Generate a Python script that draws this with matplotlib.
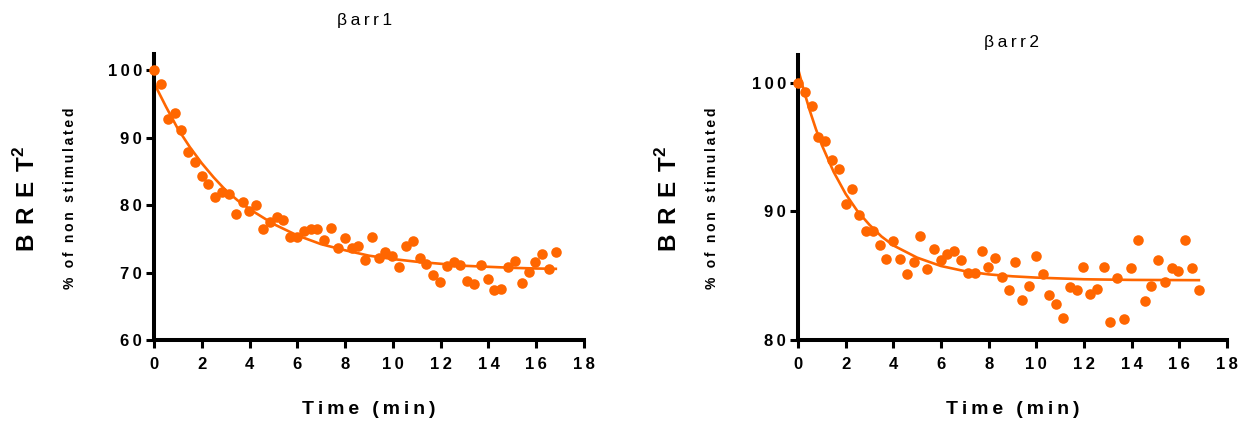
import matplotlib
matplotlib.use('Agg')
import matplotlib.pyplot as plt

plt.rcParams['font.family'] = ['Liberation Sans', 'DejaVu Sans']
plt.rcParams['mathtext.fontset'] = 'custom'
plt.rcParams['mathtext.rm'] = 'Liberation Sans'
plt.rcParams['mathtext.bf'] = 'Liberation Sans:bold'

# time points (min), shared by both experiments
time = [0, 0.29, 0.57, 0.86, 1.14, 1.43, 1.71, 2.0, 2.28, 2.57,
        2.85, 3.14, 3.42, 3.71, 3.99, 4.28, 4.56, 4.85, 5.13, 5.42,
        5.7, 5.99, 6.27, 6.56, 6.84, 7.13, 7.41, 7.7, 7.98, 8.27,
        8.55, 8.84, 9.12, 9.41, 9.69, 9.98, 10.26, 10.55, 10.83, 11.12,
        11.4, 11.69, 11.97, 12.26, 12.54, 12.83, 13.11, 13.4, 13.68, 13.97,
        14.25, 14.54, 14.82, 15.11, 15.39, 15.68, 15.96, 16.25, 16.53, 16.82]

# barr1 BRET2 (% of non stimulated)
barr1 = [100, 97.9, 92.7, 93.7, 91.1, 87.8, 86.4, 84.3, 83.1, 81.2,
         82.0, 81.7, 78.7, 80.5, 79.1, 80.0, 76.5, 77.5, 78.3, 77.8,
         75.2, 75.2, 76.1, 76.5, 76.4, 74.8, 76.6, 73.6, 75.1, 73.7,
         74.0, 71.8, 75.3, 72.2, 73.0, 72.4, 70.8, 74.0, 74.7, 72.2,
         71.2, 69.7, 68.6, 70.9, 71.6, 71.1, 68.7, 68.3, 71.1, 69.0,
         67.4, 67.6, 70.8, 71.7, 68.4, 70.1, 71.5, 72.7, 70.5, 73.1]

# barr2 BRET2 (% of non stimulated)
barr2 = [100, 99.3, 98.2, 95.75, 95.5, 94.0, 93.3, 90.6, 91.7, 89.7,
         88.5, 88.5, 87.4, 86.3, 87.7, 86.3, 85.1, 86.1, 88.1, 85.5,
         87.1, 86.2, 86.7, 86.9, 86.2, 85.2, 85.2, 86.9, 85.7, 86.4,
         84.9, 83.9, 86.1, 83.1, 84.2, 86.5, 85.1, 83.5, 82.8, 81.7,
         84.1, 83.9, 85.7, 83.6, 84.0, 85.7, 81.4, 84.8, 81.6, 85.6,
         87.8, 83.0, 84.2, 86.2, 84.5, 85.6, 85.4, 87.8, 85.6, 83.9]

# fitted decay curves
fit1_t = [0, 0.5, 1.0, 1.5, 2.0, 2.5, 3.0, 3.5, 4.0, 5.0, 6.0, 7.0,
          8.0, 9.0, 10.0, 11.0, 12.0, 13.0, 14.0, 15.0, 16.0, 16.82]
fit1_y = [98.1, 94.6, 91.3, 88.6, 86.2, 84.1, 82.2, 80.7, 79.4, 77.2, 75.5, 74.2,
          73.3, 72.5, 72.0, 71.6, 71.3, 71.0, 70.85, 70.7, 70.6, 70.55]

fit2_t = [0, 0.25, 0.5, 0.75, 1.0, 1.5, 2.0, 2.5, 3.0, 3.5, 4.0, 5.0,
          6.0, 7.0, 8.0, 9.0, 10.0, 12.0, 14.0, 16.82]
fit2_y = [101.1, 99.35, 97.8, 96.4, 95.15, 93.05, 91.35, 90.0, 88.95, 88.05, 87.35, 86.4,
          85.75, 85.35, 85.1, 84.95, 84.85, 84.72, 84.67, 84.65]

x_ticks = [0, 2, 4, 6, 8, 10, 12, 14, 16, 18]
y_ticks1 = [60, 70, 80, 90, 100]
y_ticks2 = [80, 90, 100]

orange = '#ff6600'
W, H = 1245, 424


def spaced(s, sep='\u2009'):
    return sep.join(s)


fig = plt.figure(figsize=(W / 100, H / 100), dpi=100)


def panel(rect, y, fit_t, fit_y, yticks, ylim):
    ax = fig.add_axes(rect)
    ax.plot(fit_t, fit_y, color=orange, lw=1.9, zorder=2, clip_on=False)
    ax.plot(time, y, 'o', color=orange, ms=7.6, mec='none', zorder=3, clip_on=False)
    ax.set_xlim(0, 18)
    ax.set_ylim(*ylim)
    ax.set_xticks(x_ticks)
    ax.set_xticklabels([spaced(str(t)) for t in x_ticks])
    ax.set_yticks(yticks)
    ax.set_yticklabels([spaced(str(t)) for t in yticks])
    for side in ['top', 'right']:
        ax.spines[side].set_visible(False)
    for side in ['left', 'bottom']:
        ax.spines[side].set_linewidth(2.9)
    ax.tick_params(width=2.2, length=5.5, labelsize=12)
    ax.tick_params(axis='x', pad=7)
    ax.tick_params(axis='y', pad=3)
    for lab in ax.get_xticklabels() + ax.get_yticklabels():
        lab.set_fontweight('bold')
    return ax


ax1 = panel([154 / W, 84 / H, 430 / W, 286 / H], barr1, fit1_t, fit1_y, y_ticks1, (60, 102.4))
ax2 = panel([798 / W, 84 / H, 429 / W, 285 / H], barr2, fit2_t, fit2_y, y_ticks2, (80, 102.15))

# titles
fig.text(365 / W, 1 - 20 / H, '\u03b2\u2009' + spaced('arr1'), ha='center', va='center', fontsize=12.5)
fig.text(1012 / W, 1 - 43 / H, '\u03b2\u2009' + spaced('arr2'), ha='center', va='center', fontsize=12.5)

# axis labels
for xc, yl_x, pct_x in [(369, 27, 70), (1013, 669, 712)]:
    fig.text(xc / W, 1 - 410 / H, spaced('Time (min)'), ha='center', va='center',
             fontsize=14, fontweight='bold')
    fig.text(yl_x / W, 1 - 199 / H, spaced('BRET', '\u2009\u2009') + '$^{\\mathbf{2}}$', rotation=90,
             ha='center', va='center', fontsize=17.5, fontweight='bold')
    fig.text(pct_x / W, 1 - 198 / H, spaced('% of non stimulated'), rotation=90,
             ha='center', va='center', fontsize=10, fontweight='bold')

fig.savefig('out.png', dpi=100)
